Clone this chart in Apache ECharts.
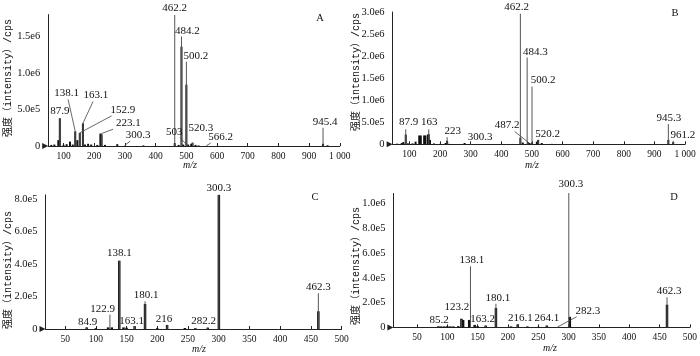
<!DOCTYPE html>
<html>
<head>
<meta charset="utf-8">
<script src="https://cdn.jsdelivr.net/npm/echarts@6/dist/echarts.min.js"></script>
<style>
html, body { margin: 0; padding: 0; background: #fff; }
#chart { width: 700px; height: 356px; }
</style>
</head>
<body>
<div id="chart"></div>
<script>
// ---- panel A ----
var aSticks = [[87.9, 3.8e5], [138.1, 2.0e5], [152.9, 1.8e5], [163.1, 3.1e5], [223.1, 1.7e5], [300.3, 1.2e4],
    [462.2, 1.795e6], [484.2, 1.5e6], [500.2, 1.155e6], [503, 1e4], [520.3, 4.5e4], [566.2, 6e3], [945.4, 2.5e5]];
var aNames = ['87.9', '138.1', '152.9', '163.1', '223.1', '300.3', '462.2', '484.2', '500.2', '503', '520.3', '566.2', '945.4'];
var aBars = [[60, 1.5e4], [70, 2e4], [83, 8e4], [87.9, 3.8e5], [100, 1.5e4], [110, 2.5e4], [121, 6e4], [130, 2e4],
    [138.1, 2.0e5], [145, 8e4], [152.9, 1.8e5], [163.1, 3.1e5], [170, 2e4], [180, 3e4], [190, 2e4], [210, 1.5e4],
    [220, 1.7e5], [224, 1.6e5], [235, 1.5e4], [275, 2.5e4], [360, 8e3], [462.2, 4e4], [475, 1.5e4], [484.2, 1.36e6],
    [490, 2e4], [500.2, 8.4e5], [506, 2e4], [516, 3e4], [520.3, 4.5e4], [530, 1.5e4], [540, 8e3], [945.4, 3e4], [960, 1e4]];

// ---- panel B ----
var bSticks = [[87.9, 3.4e5], [163, 3.4e5], [223, 1.6e5], [300.3, 1e4], [462.2, 2.96e6], [484.3, 1.97e6],
    [487.2, 5e4], [500.2, 1.31e6], [520.2, 1e5], [945.3, 4.6e5], [961.2, 8e4]];
var bNames = ['87.9', '163', '223', '300.3', '462.2', '484.3', '487.2', '500.2', '520.2', '945.3', '961.2'];
var bBars = [[60, 1.5e4], [75, 3e4], [80, 5e4], [87.9, 2.2e5], [95, 2e4], [110, 2e4], [120, 6e4], [132, 2.0e5],
    [137, 2.0e5], [148, 2.0e5], [152, 2.0e5], [160, 2.2e5], [163, 2.3e5], [167, 1e5], [180, 2e4], [200, 1e4],
    [218, 3e4], [223, 8e4], [230, 1e4], [280, 3e4], [462.2, 1.5e5], [470, 4e4], [487.2, 5e4], [492, 3e4],
    [500.2, 4e4], [516, 6e4], [520.2, 1e5], [532, 3e4], [565, 1e4], [945.3, 1e5], [961.2, 5e4]];

// ---- panel C ----
var cSticks = [[84.9, 1e4], [122.9, 8.8e4], [138.1, 4.2e5], [163.1, 1.8e4], [180.1, 1.7e5], [216, 2.5e4],
    [282.2, 1e4], [300.3, 8.25e5], [462.3, 2.2e5]];
var cNames = ['84.9', '122.9', '138.1', '163.1', '180.1', '216', '282.2', '300.3', '462.3'];
var cBars = [[85, 1e4], [100, 5e3], [120, 1e4], [126, 1e4], [138.1, 4.2e5], [145, 1e4], [150, 8e3], [163.1, 1.8e4],
    [180.1, 1.54e5], [200, 5e3], [216, 2.5e4], [245, 6e3], [262, 5e3], [282.2, 8e3], [300.3, 8.25e5], [462.3, 1.09e5]];

// ---- panel D ----
var dSticks = [[85.2, 1e4], [123.2, 6.2e4], [138.1, 4.93e5], [163.2, 1.5e4], [180.1, 1.9e5], [216.1, 2.5e4],
    [264.1, 1.5e4], [282.3, 5e3], [300.3, 1.084e6], [462.3, 2.43e5]];
var dNames = ['85.2', '123.2', '138.1', '163.2', '180.1', '216.1', '264.1', '282.3', '300.3', '462.3'];
var dBars = [[85.2, 1e4], [90, 8e3], [95, 8e3], [100, 1e4], [105, 8e3], [110, 8e3], [118, 1e4], [123.2, 7e4],
    [126, 6e4], [136, 6e4], [145, 2e4], [150, 1e4], [163.2, 1.5e4], [180.1, 1.56e5], [205, 8e3], [216.1, 2.5e4],
    [232, 8e3], [250, 5e3], [264.1, 1.5e4], [302, 8.5e4], [462.3, 1.83e5]];

// tick values
var xTicksWide = [100, 200, 300, 400, 500, 600, 700, 800, 900, 1000];
var xTicksNarrow = [50, 100, 150, 200, 250, 300, 350, 400, 450, 500];
var aYTicks = [0, 5e5, 1e6, 1.5e6];
var bYTicks = [0, 5e5, 1e6, 1.5e6, 2e6, 2.5e6, 3e6];
var cYTicks = [0, 2e5, 4e5, 6e5, 8e5];
var dYTicks = [0, 2e5, 4e5, 6e5, 8e5, 1e6];

// label placement (px from peak top to label centre) and leader flags
var aLabelPos = [[0, -7], [-8.5, -38], [43, -23], [13, -28], [27, -10], [13, -10], [0, -7], [6, -5], [9.4, -6],
    [-13, -13.6], [8.3, -15], [14, -8.5], [2, -6]];
var aLeader = [0, 1, 1, 1, 1, 1, 0, 0, 0, 1, 0, 1, 0];
var bLabelPos = [[3, -7], [0.5, -7], [5.7, -6], [9.4, -6.6], [-3.7, -6.7], [8.2, -5.5], [-21, -16.6], [11, -6],
    [9.4, -5.5], [0.5, -6.3], [9.6, -6]];
var bLeader = [0, 0, 0, 0, 0, 0, 1, 0, 0, 0, 0];
var cLabelPos = [[1, -5.5], [-7.2, -6], [0, -7.5], [-3, -5], [1.2, -6], [-3, -5.5], [-4, -6], [0, -7], [0, -6]];
var cLeader = [0, 0, 0, 0, 0, 0, 0, 0, 0];
var dLabelPos = [[0.7, -6.5], [-4.6, -12.5], [1.3, -6], [-3, -6], [2, -5.5], [2.7, -6], [0, -7.5], [30, -16], [2, -8.5], [2, -6]];
var dLeader = [0, 0, 0, 0, 0, 0, 0, 1, 0, 0];

var LABEL_FONT = '11px "Liberation Serif", serif';
var AXIS_FONT = '"Liberation Serif", serif';

function yFmt(v) {
    if (v === 0) return '0';
    return v.toExponential(1).replace('+', '');
}

function makeX(idx, min, max, ticks) {
    return {
        gridIndex: idx, type: 'value', min: min, max: max,
        axisLine: {
            lineStyle: { color: '#222', width: 1 },
            symbol: ['path://M0,0L10,0L5,10Z', 'none'],
            symbolSize: [7, 6],
            symbolOffset: [-3, 0]
        },
        axisTick: { show: true, inside: true, length: 3, customValues: ticks, lineStyle: { color: '#222' } },
        axisLabel: {
            customValues: ticks, margin: 5, fontSize: 9.5, fontFamily: AXIS_FONT, color: '#111',
            formatter: function (v) { return v === 1000 ? '1 000' : String(v); }
        },
        splitLine: { show: false }
    };
}

function makeY(idx, max, ticks) {
    return {
        gridIndex: idx, type: 'value', min: 0, max: max,
        axisLine: { show: true, lineStyle: { color: '#222', width: 1 } },
        axisTick: { show: false },
        axisLabel: { customValues: ticks, margin: 8, fontSize: 10.5, fontFamily: AXIS_FONT, color: '#111', formatter: yFmt },
        splitLine: { show: false }
    };
}

function barSeries(idx, data, w) {
    return {
        type: 'bar', xAxisIndex: idx, yAxisIndex: idx, data: data,
        barWidth: w, itemStyle: { color: '#111' }, silent: true, z: 2
    };
}

function stickSeries(idx, sticks, names, pos, leader) {
    return {
        type: 'custom', xAxisIndex: idx, yAxisIndex: idx, data: sticks, clip: false, z: 3, silent: true,
        renderItem: function (params, api) {
            var i = params.dataIndex;
            var p0 = api.coord([api.value(0), 0]);
            var p1 = api.coord([api.value(0), api.value(1)]);
            var c = [p1[0] + pos[i][0], p1[1] + pos[i][1]];
            var kids = [
                { type: 'line', shape: { x1: p0[0], y1: p0[1], x2: p1[0], y2: p1[1] },
                  style: { stroke: '#555', lineWidth: 1 } },
                { type: 'text', x: c[0], y: c[1],
                  style: { text: names[i], font: LABEL_FONT, fill: '#111',
                           textAlign: 'center', textVerticalAlign: 'middle', align: 'center', verticalAlign: 'middle' } }
            ];
            if (leader[i]) {
                var hw = names[i].length * 2.75 + 1.5, hh = 6;
                var dx = p1[0] - c[0], dy = p1[1] - c[1];
                var s = Math.min(dx ? hw / Math.abs(dx) : 9, dy ? hh / Math.abs(dy) : 9);
                kids.push({ type: 'line', shape: { x1: p1[0], y1: p1[1], x2: c[0] + s * dx, y2: c[1] + s * dy },
                            style: { stroke: '#444', lineWidth: 0.8 } });
            }
            return { type: 'group', children: kids };
        }
    };
}

function sideText(x, y, text, rot, font) {
    return {
        type: 'text', x: x, y: y, rotation: rot || 0,
        style: { text: text, font: font, fill: '#111', align: 'center', verticalAlign: 'middle',
                 textAlign: 'center', textVerticalAlign: 'middle' }
    };
}

var chart = echarts.init(document.getElementById('chart'));
var yName = '强度（intensity）/cps';
var nameFont = '10px "Liberation Mono", "Noto Sans CJK SC", monospace';
var mzFont = 'italic 10px "Liberation Serif", serif';
var letterFont = '10.5px "Liberation Serif", serif';

chart.setOption({
    animation: false,
    grid: [
        { left: 48.2, top: 14.6, width: 291.6, height: 131.4 },
        { left: 392.6, top: 12, width: 292.5, height: 132.3 },
        { left: 45.5, top: 194.9, width: 296, height: 134.1 },
        { left: 393.4, top: 193.5, width: 297.3, height: 133.9 }
    ],
    xAxis: [
        makeX(0, 50, 1000, xTicksWide),
        makeX(1, 45, 1000, xTicksWide),
        makeX(2, 18, 500, xTicksNarrow),
        makeX(3, 11, 500, xTicksNarrow)
    ],
    yAxis: [
        makeY(0, 1.8e6, aYTicks),
        makeY(1, 3e6, bYTicks),
        makeY(2, 8.25e5, cYTicks),
        makeY(3, 1.08e6, dYTicks)
    ],
    series: [
        barSeries(0, aBars, 2), stickSeries(0, aSticks, aNames, aLabelPos, aLeader),
        barSeries(1, bBars, 2), stickSeries(1, bSticks, bNames, bLabelPos, bLeader),
        barSeries(2, cBars, 2.5), stickSeries(2, cSticks, cNames, cLabelPos, cLeader),
        barSeries(3, dBars, 2.5), stickSeries(3, dSticks, dNames, dLabelPos, dLeader)
    ],
    graphic: [
        sideText(8, 78, yName, Math.PI / 2, nameFont),
        sideText(356, 72, yName, Math.PI / 2, nameFont),
        sideText(8, 270, yName, Math.PI / 2, nameFont),
        sideText(356, 266, yName, Math.PI / 2, nameFont),
        sideText(190, 165, 'm/z', 0, mzFont),
        sideText(532, 165, 'm/z', 0, mzFont),
        sideText(199, 349, 'm/z', 0, mzFont),
        sideText(550, 348, 'm/z', 0, mzFont),
        sideText(320, 18, 'A', 0, letterFont),
        sideText(675, 13, 'B', 0, letterFont),
        sideText(315, 197, 'C', 0, letterFont),
        sideText(674, 197, 'D', 0, letterFont)
    ]
});
</script>
</body>
</html>
